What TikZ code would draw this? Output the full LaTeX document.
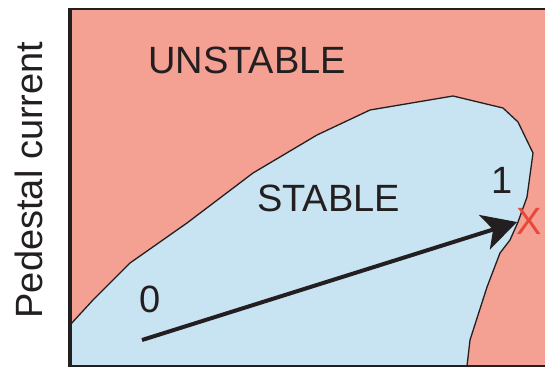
\documentclass[tikz,border=0pt]{standalone}
\usepackage{fontspec}
\setmainfont{Liberation Sans}
\usetikzlibrary{arrows.meta}
\definecolor{unstab}{HTML}{F4A093}
\definecolor{stab}{HTML}{C8E3F2}
\definecolor{ink}{HTML}{231F20}
\definecolor{xred}{HTML}{E8483A}
\tikzset{
  lbl/.style={inner sep=0pt, text=ink, font=\fontsize{38}{40}\selectfont},
  boundary/.style={draw=ink, line width=1.3pt, line join=round},
  pathArrow/.style={draw=ink, line width=4pt, -{Stealth[length=34pt,width=36pt,inset=9pt]}}
}
\begin{document}
\begin{tikzpicture}[x=1pt,y=-1pt]
\useasboundingbox (0,0) rectangle (545,367);
% unstable background
\fill[unstab] (70,9) rectangle (545,366);
% stable region
\fill[stab] (70,325) -- (93,300) -- (130,263) -- (187,223) -- (253,173) -- (317,135)
  -- (370,110) -- (453,96) -- (503,108) -- (518,122) -- (533,153) -- (527,197)
  -- (518,222) -- (510,240) -- (500,253) -- (487,287) -- (470,340) -- (467,366)
  -- (70,366) -- cycle;
\draw[boundary] (70,325) -- (93,300) -- (130,263) -- (187,223) -- (253,173) -- (317,135)
  -- (370,110) -- (453,96) -- (503,108) -- (518,122) -- (533,153) -- (527,197)
  -- (518,222) -- (510,240) -- (500,253) -- (487,287) -- (470,340) -- (467,366);
% frame
\draw[ink, line width=1.5pt] (69,9) -- (545,9);
\draw[ink, line width=1.5pt] (69,366) -- (545,366);
\draw[ink, line width=4pt] (70,7.5) -- (70,367);
% labels
\node[lbl, anchor=base west] (unstable) at (148,73) {UNSTABLE};
\node[lbl, anchor=base west] (stable) at (257,211) {STABLE};
\node[lbl, anchor=base] (zero) at (150,312) {0};
\node[lbl, anchor=base] (one) at (502,193) {1};
\node[lbl, anchor=base, text=xred] (xmark) at (529,234) {X};
\node[lbl, anchor=base, rotate=90] (ylabel) at (42,180) {Pedestal current};
% trajectory
\coordinate (start) at (142,340);
\coordinate (tip) at (517,222);
\draw[pathArrow] (start) -- (tip);
\end{tikzpicture}
\end{document}
